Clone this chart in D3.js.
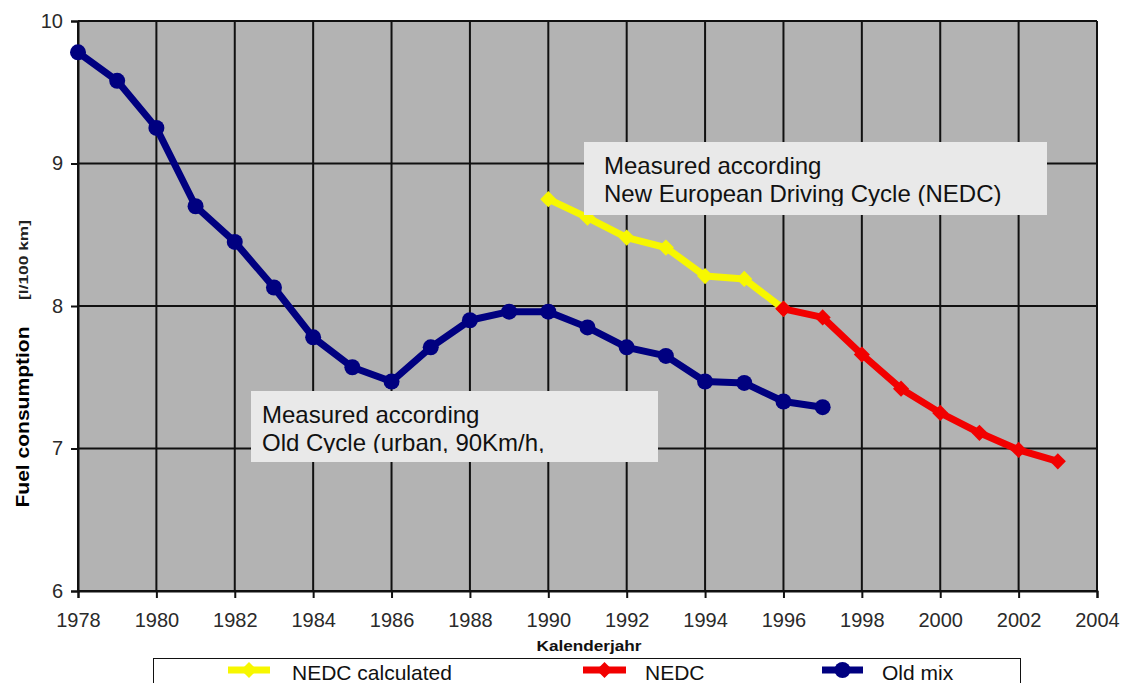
<!DOCTYPE html>
<html>
<head>
<meta charset="utf-8">
<script src="https://cdn.jsdelivr.net/npm/d3@7"></script>
<style>
	body { margin: 0; background: #fff; }
	svg { display: block; font-family: "Liberation Sans", Arial, sans-serif; }
</style>
</head>
<body>
<svg id="chart" width="1126" height="683"></svg>
<script>
const years_old = [1978, 1979, 1980, 1981, 1982, 1983, 1984, 1985, 1986, 1987,
	1988, 1989, 1990, 1991, 1992, 1993, 1994, 1995, 1996, 1997];
const old_mix = [9.78, 9.58, 9.25, 8.70, 8.45, 8.13, 7.78, 7.57, 7.47, 7.71,
	7.90, 7.96, 7.96, 7.85, 7.71, 7.65, 7.47, 7.46, 7.33, 7.29];

const years_calc = [1990, 1991, 1992, 1993, 1994, 1995, 1996];
const nedc_calculated = [8.75, 8.62, 8.48, 8.41, 8.21, 8.19, 7.98];

const years_nedc = [1996, 1997, 1998, 1999, 2000, 2001, 2002, 2003];
const nedc = [7.98, 7.92, 7.66, 7.42, 7.25, 7.11, 6.99, 6.91];

const x_ticks = d3.range(1978, 2005, 2);
const y_ticks = [6, 7, 8, 9, 10];

const series = [
	{ name: "NEDC calculated", years: years_calc, values: nedc_calculated, color: "#f7f700", marker: "diamond" },
	{ name: "NEDC", years: years_nedc, values: nedc, color: "#f20000", marker: "diamond" },
	{ name: "Old mix", years: years_old, values: old_mix, color: "#000080", marker: "circle" }
];

const svg = d3.select('#chart');

const plot = { left: 78, right: 1097, top: 21, bottom: 591 };

const x = d3.scaleLinear().domain([1978, 2004]).range([plot.left, plot.right]);
const y = d3.scaleLinear().domain([6, 10]).range([plot.bottom, plot.top]);

// plot background
svg.append('rect')
	.attr('x', plot.left).attr('y', plot.top)
	.attr('width', plot.right - plot.left).attr('height', plot.bottom - plot.top)
	.attr('fill', '#b3b3b3');

// grid
const grid = svg.append('g').attr('stroke', '#111').attr('stroke-width', 2);

grid.selectAll('line.v')
	.data(x_ticks)
	.enter().append('line')
	.attr('class', 'v')
	.attr('x1', d => x(d)).attr('x2', d => x(d))
	.attr('y1', plot.top).attr('y2', plot.bottom);

grid.selectAll('line.h')
	.data(y_ticks)
	.enter().append('line')
	.attr('class', 'h')
	.attr('x1', plot.left).attr('x2', plot.right)
	.attr('y1', d => y(d)).attr('y2', d => y(d));

// axes
const xaxis = svg.append('g')
	.attr('transform', `translate(0,${plot.bottom})`)
	.call(d3.axisBottom(x).tickValues(x_ticks).tickFormat(d3.format('d')).tickSize(7).tickPadding(15));

const yaxis = svg.append('g')
	.attr('transform', `translate(${plot.left},0)`)
	.call(d3.axisLeft(y).tickValues(y_ticks).tickFormat(d3.format('d')).tickSize(7).tickPadding(8));

for (let a of [xaxis, yaxis]) {
	a.attr('font-size', 20).attr('font-family', '"Liberation Sans", Arial, sans-serif');
	a.select('.domain').attr('stroke', '#111').attr('stroke-width', 2);
	a.selectAll('.tick line').attr('stroke', '#111').attr('stroke-width', 2);
	a.selectAll('.tick text').attr('fill', '#2a2a2a');
}

// series
const line = d3.line()
	.x(d => x(d[0]))
	.y(d => y(d[1]));

const diamond = d3.symbol().type(d3.symbolSquare).size(130);

function draw_marker(g, s, px, py) {
	if (s.marker === 'circle')
		g.append('circle').attr('cx', px).attr('cy', py).attr('r', 8).attr('fill', s.color);
	else
		g.append('path')
			.attr('d', diamond())
			.attr('transform', `translate(${px},${py}) rotate(45)`)
			.attr('fill', s.color);
};

for (let s of series) {
	const pts = s.years.map((yr, i) => [yr, s.values[i]]);
	const g = svg.append('g');

	g.append('path')
		.attr('d', line(pts))
		.attr('fill', 'none')
		.attr('stroke', s.color)
		.attr('stroke-width', 7)
		.attr('stroke-linejoin', 'round');

	for (let p of pts) draw_marker(g, s, x(p[0]), y(p[1]));
}

// NEDC start marker sits on top of the yellow line end
draw_marker(svg, series[1], x(years_nedc[0]), y(nedc[0]));

// annotations
const defs = svg.append('defs');

function note(id, bx, by, bw, bh, clip_y, lines) {
	defs.append('clipPath').attr('id', id)
		.append('rect')
		.attr('x', bx).attr('y', by)
		.attr('width', bw).attr('height', clip_y - by);

	svg.append('rect')
		.attr('x', bx).attr('y', by)
		.attr('width', bw).attr('height', bh)
		.attr('fill', '#e9e9e9');

	const g = svg.append('g').attr('clip-path', `url(#${id})`);

	for (let l of lines)
		g.append('text')
			.attr('x', l.x).attr('y', l.y)
			.attr('font-size', 24)
			.attr('fill', '#111')
			.text(l.t);
};

note('clip-nedc', 584, 142, 463, 73, 206, [
	{ t: "Measured according", x: 604, y: 174 },
	{ t: "New European Driving Cycle (NEDC)", x: 604, y: 202 }
]);

note('clip-old', 251, 391, 407, 71, 453, [
	{ t: "Measured according", x: 262, y: 423 },
	{ t: "Old Cycle (urban, 90Km/h,", x: 262, y: 451 }
]);

// axis titles
svg.append('text')
	.attr('transform', 'translate(29,417) rotate(-90)')
	.attr('text-anchor', 'middle')
	.attr('font-size', 19)
	.attr('font-weight', 'bold')
	.attr('textLength', 181)
	.attr('lengthAdjust', 'spacingAndGlyphs')
	.text("Fuel consumption");

svg.append('text')
	.attr('transform', 'translate(28,260) rotate(-90)')
	.attr('text-anchor', 'middle')
	.attr('font-size', 13)
	.attr('font-weight', 'bold')
	.attr('fill', '#222')
	.attr('textLength', 80)
	.attr('lengthAdjust', 'spacingAndGlyphs')
	.text("[l/100 km]");

svg.append('text')
	.attr('x', 589).attr('y', 651)
	.attr('text-anchor', 'middle')
	.attr('font-size', 15)
	.attr('font-weight', 'bold')
	.attr('fill', '#111')
	.attr('textLength', 105)
	.attr('lengthAdjust', 'spacingAndGlyphs')
	.text("Kalenderjahr");

// legend
const legend = svg.append('g');

legend.append('rect')
	.attr('x', 153.5).attr('y', 658.5)
	.attr('width', 867).attr('height', 60)
	.attr('fill', '#fff')
	.attr('stroke', '#111')
	.attr('stroke-width', 1);

const legend_pos = [
	{ x1: 228, x2: 270, tx: 292 },
	{ x1: 583, x2: 626, tx: 645 },
	{ x1: 822, x2: 863, tx: 882 }
];

series.forEach((s, i) => {
	const p = legend_pos[i];
	legend.append('line')
		.attr('x1', p.x1).attr('x2', p.x2)
		.attr('y1', 670).attr('y2', 670)
		.attr('stroke', s.color)
		.attr('stroke-width', 7);

	draw_marker(legend, s, (p.x1 + p.x2) / 2, 670);

	legend.append('text')
		.attr('x', p.tx).attr('y', 680)
		.attr('font-size', 21)
		.attr('fill', '#111')
		.text(s.name);
});
</script>
</body>
</html>
